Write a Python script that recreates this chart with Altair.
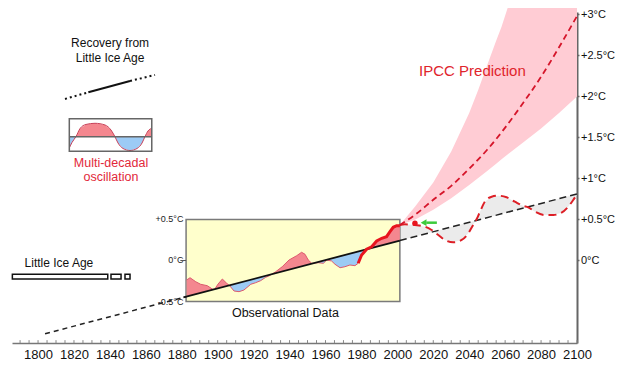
import altair as alt
import pandas as pd
import numpy as np

FONT = "Liberation Sans"

# ---------------- axes ----------------
X_DOMAIN = [1785.5, 2100]
Y_DOMAIN = [-1.006, 3.030]
x_major = list(range(1800, 2101, 20))
x_minor = list(range(1790, 2101, 5))
y_ticks = [0, 0.5, 1, 1.5, 2, 2.5, 3]

# ---------------- long-term trend (recovery from Little Ice Age) ----------------
trend_years = [1803.9, 2100.0]
trend_vals = [-0.893, 0.811]

# ---------------- observational inset ----------------
box_years = [1882.4, 2001.4]
box_vals = [-0.5, 0.5]
inset_label_vals = [0.5, 0.0, -0.5]
inset_labels = ["+0.5°C", "0°C", "-0.5°C"]

obs_years = [1882.7, 1884.6, 1887.8, 1890.5, 1894.2, 1897.0, 1898.3, 1900.2, 1902.6,
             1905.0, 1906.8, 1909.1, 1911.9, 1914.6, 1918.4, 1921.1, 1923.9, 1926.7,
             1928.5, 1932.3, 1935.9, 1939.7, 1944.0, 1946.7, 1948.6, 1950.4, 1952.3,
             1956.0, 1958.8, 1960.7, 1963.4, 1965.3, 1968.1, 1970.8, 1973.6, 1976.4, 1978.2]
obs_vals = [-0.238, -0.210, -0.259, -0.290, -0.307, -0.348, -0.351, -0.287, -0.226,
            -0.278, -0.311, -0.372, -0.380, -0.360, -0.290, -0.271, -0.246, -0.205,
            -0.189, -0.137, -0.076, 0.006, 0.059, 0.100, 0.076, 0.006, -0.034,
            -0.027, -0.034, 0.006, -0.006, -0.046, -0.088, -0.076, -0.055, -0.063, -0.034]

recent_years = [1978.2, 1980.1, 1982.9, 1985.7, 1988.5, 1991.3, 1994.0, 1995.9, 1997.7, 1999.6, 2001.4]
recent_vals = [-0.034, 0.067, 0.137, 0.168, 0.238, 0.271, 0.290, 0.351, 0.405, 0.424, 0.424]

# ---------------- multi-decadal oscillation projection ----------------
osc_years = [2001.4, 2004.2, 2009.8, 2015.4, 2019.1, 2022.8, 2026.5, 2031.1, 2035.8, 2039.5,
             2042.2, 2044.1, 2046.0, 2048.7, 2052.5, 2056.1, 2060.8, 2065.4, 2070.1, 2072.8,
             2076.6, 2082.1, 2086.8, 2091.4, 2095.1, 2097.9, 2099.8]
osc_vals = [0.433, 0.441, 0.433, 0.412, 0.372, 0.311, 0.250, 0.222, 0.250, 0.332,
            0.433, 0.502, 0.595, 0.717, 0.778, 0.790, 0.771, 0.717, 0.665, 0.649,
            0.595, 0.555, 0.555, 0.583, 0.656, 0.738, 0.799]

# ---------------- IPCC prediction ----------------
ipcc_years = [2001.4, 2010, 2020, 2030, 2040, 2045, 2050, 2055, 2058, 2061.7, 2070, 2080, 2090, 2100]
ipcc_upper = [0.433, 0.66, 0.95, 1.33, 1.80, 2.08, 2.38, 2.68, 2.85, 3.10, 3.10, 3.10, 3.10, 3.10]
ipcc_lower = [0.433, 0.50, 0.62, 0.76, 0.92, 1.005, 1.09, 1.18, 1.235, 1.30, 1.44, 1.61, 1.80, 2.00]
ipcc_mid_years = [2001.4, 2010, 2020, 2030, 2040, 2050, 2060, 2070, 2080, 2090, 2100]
ipcc_mid_vals = [0.433, 0.56, 0.74, 0.91, 1.12, 1.35, 1.62, 1.92, 2.24, 2.60, 2.98]

# latest observation marker and arrow
dot_year, dot_val = 2009.8, 0.454
arrow_years = [2014.6, 2022.0]
arrow_val = 0.461

# ---------------- legend icons (top left) ----------------
recovery_years = [1815.0, 1828.0, 1851.2, 1865.1]
recovery_vals = [1.970, 2.051, 2.189, 2.262]
recovery_text = ["Recovery from", "Little  Ice Age"]
recovery_text_year = 1840.1
recovery_text_vals = [2.649, 2.466]

icon_box_years = [1817.4, 1863.3]
icon_box_vals = [1.332, 1.729]
icon_mid = 1.510
wave_years = [1817.4, 1818.9, 1821.1, 1823.4, 1826.7, 1831.7, 1837.3, 1840.6, 1842.8, 1844.5,
              1847.3, 1851.2, 1855.1, 1857.9, 1859.5, 1861.2, 1863.3]
wave_vals = [1.372, 1.439, 1.510, 1.610, 1.659, 1.673, 1.652, 1.591, 1.510, 1.433,
             1.366, 1.341, 1.366, 1.433, 1.510, 1.579, 1.612]
mdo_text = ["Multi-decadal", "oscillation"]
mdo_text_year = 1840.6
mdo_text_vals = [1.185, 1.022]

# Little Ice Age bars
lia_x1 = [1785.7, 1840.6, 1848.4]
lia_x2 = [1838.8, 1846.2, 1851.2]
lia_vals = [-0.226, -0.168]
lia_text_year, lia_text_val = 1792.5, -0.027

ipcc_text_year, ipcc_text_val = 2041.8, 2.315
obs_text_year, obs_text_val = 1937.7, -0.644

# ---------------- helpers ----------------
xs = alt.Scale(domain=X_DOMAIN, nice=False, zero=False)
ysc = alt.Scale(domain=Y_DOMAIN, nice=False, zero=False)

X_AXIS = alt.Axis(values=x_major, format="d", ticks=False, grid=False,
                  domainColor="#777777", domainWidth=1.5, labelFontSize=13,
                  labelFont=FONT, labelColor="#111111", labelPadding=5,
                  labelFlush=False, labelOverlap=False)
Y_AXIS = alt.Axis(orient="right", values=y_ticks, format="~g", grid=False,
                  labelExpr="datum.value == 0 ? '0°C' : '+' + datum.label + '°C'",
                  domainColor="#666666", domainWidth=2, tickColor="#666666",
                  tickSize=2, tickWidth=1.5, labelFontSize=11, labelFont=FONT,
                  labelColor="#111111", labelPadding=1.5, labelFlush=False,
                  labelOverlap=False)


def X(f="x"):
    return alt.X(f, type="quantitative", scale=xs, axis=X_AXIS, title=None)


def Y(f="y"):
    return alt.Y(f, type="quantitative", scale=ysc, axis=Y_AXIS, title=None)


def trend(yrs):
    return np.interp(np.asarray(yrs, dtype=float), trend_years, trend_vals)


def split_fill(xv, yv, base):
    X_, U, L, B = [], [], [], []
    for i in range(len(xv)):
        if i > 0:
            d0 = yv[i - 1] - base[i - 1]
            d1 = yv[i] - base[i]
            if d0 * d1 < 0:
                t = d0 / (d0 - d1)
                xc = xv[i - 1] + t * (xv[i] - xv[i - 1])
                bc = base[i - 1] + t * (base[i] - base[i - 1])
                X_.append(xc); U.append(bc); L.append(bc); B.append(bc)
        X_.append(xv[i]); B.append(base[i])
        U.append(max(yv[i], base[i])); L.append(min(yv[i], base[i]))
    return pd.DataFrame({"x": X_, "up": U, "lo": L, "base": B})


def line_df(xv, yv):
    return pd.DataFrame({"x": list(xv), "y": list(yv)})


layers = []

# minor ticks on bottom axis (pointing up)
tick_df = pd.DataFrame({"x": x_minor, "y": Y_DOMAIN[0], "y2": Y_DOMAIN[0] + 0.035})
layers.append(alt.Chart(tick_df).mark_rule(color="#888888", strokeWidth=1).encode(
    x=X(), y=Y(), y2="y2:Q"))

# IPCC band
ipcc_df = pd.DataFrame({"x": ipcc_years, "y": ipcc_upper, "y2": ipcc_lower})
layers.append(alt.Chart(ipcc_df).mark_area(color="#FFCCD4", opacity=1).encode(
    x=X(), y=Y(), y2="y2:Q"))

# grey fill between oscillation and trend
osc_df = pd.DataFrame({"x": osc_years, "y": osc_vals, "y2": trend(osc_years)})
layers.append(alt.Chart(osc_df).mark_area(color="#EBEBEB").encode(x=X(), y=Y(), y2="y2:Q"))

# inset box
box_df = pd.DataFrame({"x": [box_years[0]], "x2": [box_years[1]], "y": [box_vals[0]], "y2": [box_vals[1]]})
layers.append(alt.Chart(box_df).mark_rect(fill="#FFFFCC", stroke="#7A7A7A", strokeWidth=1.5).encode(
    x=X(), x2="x2:Q", y=Y(), y2="y2:Q"))

# inset fills
all_years = obs_years + recent_years[1:]
all_vals = obs_vals + recent_vals[1:]
fill_df = split_fill(all_years, all_vals, list(trend(all_years)))
layers.append(alt.Chart(fill_df).mark_area(color="#F4878F").encode(x=X(), y=Y("up"), y2="base:Q"))
layers.append(alt.Chart(fill_df).mark_area(color="#9CCBF5").encode(x=X(), y=Y("lo"), y2="base:Q"))
layers.append(alt.Chart(line_df(obs_years, obs_vals)).mark_line(color="#DC5A6E", strokeWidth=1).encode(
    x=X(), y=Y()))

# inset tick + labels
layers.append(alt.Chart(pd.DataFrame({"x": [box_years[0] - 3.2], "x2": [box_years[0]], "y": [0.0]}))
              .mark_rule(color="#555555", strokeWidth=1).encode(x=X(), x2="x2:Q", y=Y()))
inset_lab_df = pd.DataFrame({"x": box_years[0] - 1.5, "y": inset_label_vals, "t": inset_labels})
layers.append(alt.Chart(inset_lab_df).mark_text(align="right", baseline="middle", fontSize=9,
                                                font=FONT, color="#222222").encode(
    x=X(), y=Y(), text="t:N"))

# trend line: dashed / solid / dashed
seg_a = [trend_years[0], box_years[0]]
seg_b = [box_years[0] - 1.5, box_years[1]]
seg_c = [box_years[1], trend_years[1]]
layers.append(alt.Chart(line_df(seg_a, trend(seg_a))).mark_line(
    color="#222222", strokeWidth=1.5, strokeDash=[5, 4]).encode(x=X(), y=Y()))
layers.append(alt.Chart(line_df(seg_b, trend(seg_b))).mark_line(
    color="#111111", strokeWidth=1.8).encode(x=X(), y=Y()))
layers.append(alt.Chart(line_df(seg_c, trend(seg_c))).mark_line(
    color="#222222", strokeWidth=1.5, strokeDash=[7, 4]).encode(x=X(), y=Y()))

# recent observations (thick red)
layers.append(alt.Chart(line_df(recent_years, recent_vals)).mark_line(
    color="#E8141E", strokeWidth=3).encode(x=X(), y=Y()))

# oscillation projection and IPCC central line
layers.append(alt.Chart(line_df(osc_years, osc_vals)).mark_line(
    color="#DD1F26", strokeWidth=2, strokeDash=[8, 5], interpolate="monotone").encode(x=X(), y=Y()))
layers.append(alt.Chart(line_df(ipcc_mid_years, ipcc_mid_vals)).mark_line(
    color="#D5152A", strokeWidth=1.8, strokeDash=[6, 4], interpolate="monotone").encode(x=X(), y=Y()))

# red dot + green arrow
layers.append(alt.Chart(pd.DataFrame({"x": [dot_year], "y": [dot_val]})).mark_point(
    filled=True, color="#E8141E", size=30, opacity=1).encode(x=X(), y=Y()))
layers.append(alt.Chart(pd.DataFrame({"x": [arrow_years[0] + 1.5], "x2": [arrow_years[1]], "y": [arrow_val]}))
              .mark_rule(color="#3CCB3C", strokeWidth=2.5).encode(x=X(), x2="x2:Q", y=Y()))
layers.append(alt.Chart(pd.DataFrame({"x": [arrow_years[0]], "y": [arrow_val]})).mark_point(
    shape="triangle-left", filled=True, color="#3CCB3C", size=45, opacity=1).encode(x=X(), y=Y()))

# Little Ice Age bars + label
lia_df = pd.DataFrame({"x": lia_x1, "x2": lia_x2, "y": lia_vals[0], "y2": lia_vals[1]})
layers.append(alt.Chart(lia_df).mark_rect(fill="white", stroke="#111111", strokeWidth=1.5)
              .encode(x=X(), x2="x2:Q", y=Y(), y2="y2:Q"))
layers.append(alt.Chart(pd.DataFrame({"x": [lia_text_year], "y": [lia_text_val], "t": ["Little Ice Age"]}))
              .mark_text(align="left", baseline="middle", fontSize=12, font=FONT, color="#111111")
              .encode(x=X(), y=Y(), text="t:N"))

# recovery icon
layers.append(alt.Chart(line_df(recovery_years[0:2], recovery_vals[0:2])).mark_line(
    color="#111111", strokeWidth=2, strokeDash=[2, 3]).encode(x=X(), y=Y()))
layers.append(alt.Chart(line_df(recovery_years[1:3], recovery_vals[1:3])).mark_line(
    color="#111111", strokeWidth=2).encode(x=X(), y=Y()))
layers.append(alt.Chart(line_df(recovery_years[2:4], recovery_vals[2:4])).mark_line(
    color="#111111", strokeWidth=2, strokeDash=[2, 3]).encode(x=X(), y=Y()))
layers.append(alt.Chart(pd.DataFrame({"x": recovery_text_year, "y": recovery_text_vals, "t": recovery_text}))
              .mark_text(align="center", baseline="middle", fontSize=12, font=FONT, color="#111111")
              .encode(x=X(), y=Y(), text="t:N"))

# oscillation icon
wave_fill = split_fill(wave_years, wave_vals, [icon_mid] * len(wave_years))
layers.append(alt.Chart(wave_fill).mark_area(color="#F4878F").encode(x=X(), y=Y("up"), y2="base:Q"))
layers.append(alt.Chart(wave_fill).mark_area(color="#9CCBF5").encode(x=X(), y=Y("lo"), y2="base:Q"))
layers.append(alt.Chart(line_df(wave_years, wave_vals)).mark_line(
    color="#C84058", strokeWidth=1, interpolate="monotone").encode(x=X(), y=Y()))
layers.append(alt.Chart(pd.DataFrame({"x": [icon_box_years[0]], "x2": [icon_box_years[1]], "y": [icon_mid]}))
              .mark_rule(color="#666666", strokeWidth=1.5).encode(x=X(), x2="x2:Q", y=Y()))
icon_box_df = pd.DataFrame({"x": [icon_box_years[0]], "x2": [icon_box_years[1]],
                            "y": [icon_box_vals[0]], "y2": [icon_box_vals[1]]})
layers.append(alt.Chart(icon_box_df).mark_rect(fillOpacity=0, stroke="#666666", strokeWidth=1.5)
              .encode(x=X(), x2="x2:Q", y=Y(), y2="y2:Q"))
layers.append(alt.Chart(pd.DataFrame({"x": mdo_text_year, "y": mdo_text_vals, "t": mdo_text}))
              .mark_text(align="center", baseline="middle", fontSize=12.5, font=FONT, color="#E2283A")
              .encode(x=X(), y=Y(), text="t:N"))

# texts
layers.append(alt.Chart(pd.DataFrame({"x": [ipcc_text_year], "y": [ipcc_text_val], "t": ["IPCC Prediction"]}))
              .mark_text(align="center", baseline="middle", fontSize=15, font=FONT, color="#E0242C")
              .encode(x=X(), y=Y(), text="t:N"))
layers.append(alt.Chart(pd.DataFrame({"x": [obs_text_year], "y": [obs_text_val], "t": ["Observational Data"]}))
              .mark_text(align="center", baseline="middle", fontSize=12.5, font=FONT, color="#111111")
              .encode(x=X(), y=Y(), text="t:N"))

chart = alt.layer(*layers).properties(
    width=565, height=331,
    autosize=alt.AutoSizeParams(type="none"),
    padding={"left": 4, "top": 4, "right": 39, "bottom": 25},
    background="white",
).configure_view(stroke=None)

chart.save("out.html", embed_options={"renderer": "svg", "actions": False})
